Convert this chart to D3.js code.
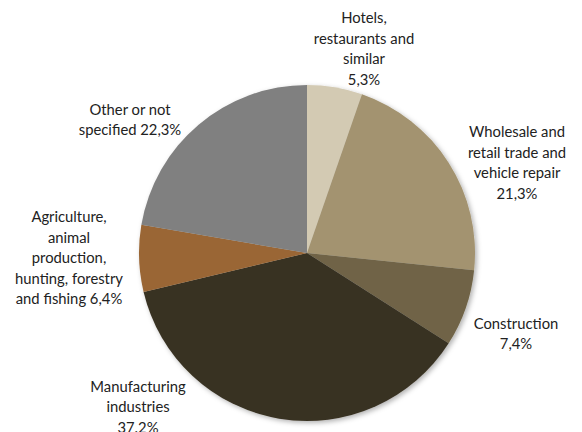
<!DOCTYPE html>
<html>
<head>
<meta charset="utf-8">
<script src="https://cdn.jsdelivr.net/npm/d3@7"></script>
<style>
  html, body { margin: 0; padding: 0; background: #fff; }
  svg { display: block; }
</style>
</head>
<body>
<div id="chart"></div>
<script>
// Sector shares (%), clockwise from 12 o'clock
const sectors = [
  "Hotels, restaurants and similar",
  "Wholesale and retail trade and vehicle repair",
  "Construction",
  "Manufacturing industries",
  "Agriculture, animal production, hunting, forestry and fishing",
  "Other or not specified"
];
const shares = [5.3, 21.3, 7.4, 37.2, 6.4, 22.3];
const shareText = ["5,3%", "21,3%", "7,4%", "37.2%", "6,4%", "22,3%"];
// label text as wrapped in the original
const labelLines = [
  ["Hotels,", "restaurants and", "similar", "5,3%"],
  ["Wholesale and", "retail trade and", "vehicle repair", "21,3%"],
  ["Construction", "7,4%"],
  ["Manufacturing", "industries", "37.2%"],
  ["Agriculture,", "animal", "production,", "hunting, forestry", "and fishing 6,4%"],
  ["Other or not", "specified 22,3%"]
];
const colors = ["#d3cab3", "#a39370", "#706446", "#393222", "#9a6634", "#808080"];

const width = 582, height = 432;
const cx = 307, cy = 253, radius = 168;
const lineHeight = 20.5;
// label block centres, relative to the pie centre
const labelOffset = [[57, -204], [210, -90], [209, 81], [-169, 154], [-238, 5], [-177, -133]];

const svg = d3.select("#chart").append("svg")
  .attr("width", width)
  .attr("height", height);

const defs = svg.append("defs");
defs.append("filter")
  .attr("id", "shadow")
  .attr("x", "-20%").attr("y", "-20%")
  .attr("width", "140%").attr("height", "140%")
  .append("feDropShadow")
  .attr("dx", 2).attr("dy", 2)
  .attr("stdDeviation", 2.5)
  .attr("flood-color", "#000")
  .attr("flood-opacity", 0.3);

const pie = d3.pie().sort(null).value(d => d);
const arc = d3.arc().innerRadius(0).outerRadius(radius);

const g = svg.append("g")
  .attr("transform", `translate(${cx},${cy})`);

g.append("g")
  .attr("filter", "url(#shadow)")
  .selectAll("path")
  .data(pie(shares))
  .join("path")
  .attr("d", arc)
  .attr("fill", (d, i) => colors[i]);

const labels = g.append("g")
  .attr("font-family", "Lato, 'Open Sans', sans-serif")
  .attr("font-size", 14.8)
  .attr("fill", "#222")
  .attr("text-anchor", "middle")
  .selectAll("text")
  .data(labelLines)
  .join("text")
  .attr("transform", (d, i) => `translate(${labelOffset[i][0]},${labelOffset[i][1]})`);

labels.selectAll("tspan")
  .data(d => d.map((t, j) => ({ t, j, n: d.length })))
  .join("tspan")
  .attr("x", 0)
  .attr("y", d => (d.j - (d.n - 1) / 2) * lineHeight)
  .attr("dy", "0.35em")
  .text(d => d.t);
</script>
</body>
</html>
